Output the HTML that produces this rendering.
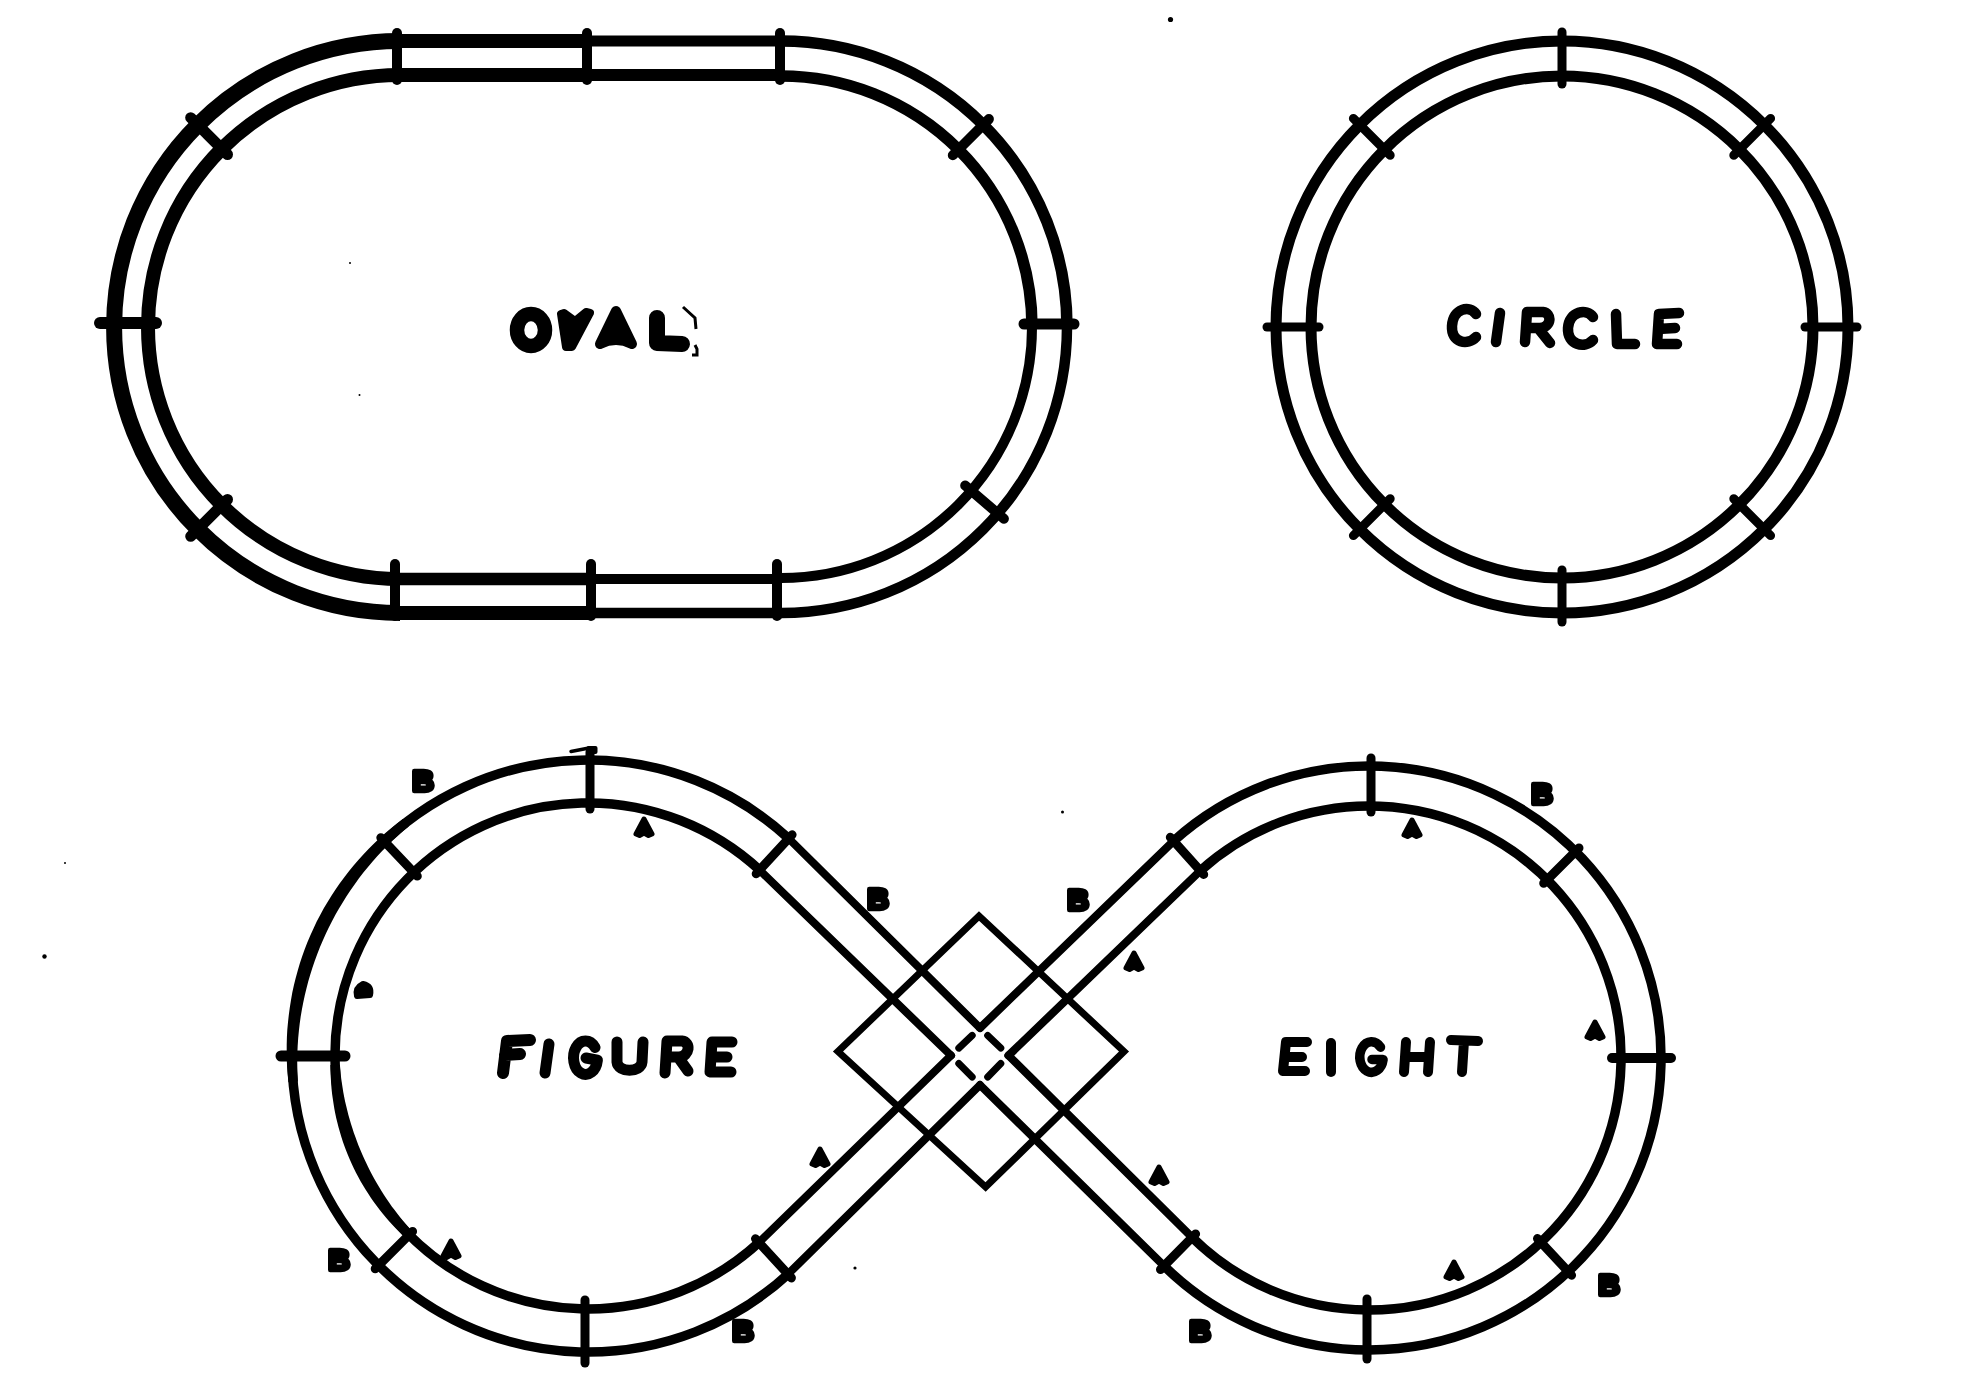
<!DOCTYPE html>
<html><head><meta charset="utf-8"><style>
html,body{margin:0;padding:0;background:#fff;}
svg{display:block;will-change:transform;}
.lbl{font-family:"Liberation Sans",sans-serif;font-weight:bold;font-size:30px;text-anchor:middle;fill:#000;stroke:#000;stroke-width:2.5px;stroke-linejoin:round;}
.lb{font-size:30px;stroke-width:4.5px;}
</style></head><body>
<svg width="1969" height="1386" viewBox="0 0 1969 1386">
<g stroke="#000" fill="none">
<path d="M400,41 A286,286 0 0 0 400,613" stroke-width="16" fill="none" />
<path d="M400,75 A252,252 0 0 0 400,579" stroke-width="14" fill="none" />
<path d="M399,41 L587,41" stroke-width="14" fill="none" />
<path d="M399,75 L587,75" stroke-width="14" fill="none" />
<path d="M586,41 L782,41" stroke-width="11" fill="none" />
<path d="M586,75 L782,75" stroke-width="12" fill="none" />
<path d="M399,613 L591,613" stroke-width="14" fill="none" />
<path d="M399,579 L591,579" stroke-width="12.5" fill="none" />
<path d="M590,613 L782,613" stroke-width="10.5" fill="none" />
<path d="M590,579 L782,579" stroke-width="10" fill="none" />
<path d="M781,41 A286,286 0 0 1 1067,327" stroke-width="11.5" fill="none" />
<path d="M781,76 A251,251 0 0 1 1032,327" stroke-width="11.5" fill="none" />
<path d="M1067,327 A286,286 0 0 1 781,613" stroke-width="10.5" fill="none" />
<path d="M1032,327 A251,251 0 0 1 781,578" stroke-width="10" fill="none" />
<line x1="397.0" y1="33.0" x2="397.0" y2="80.0" stroke-width="10" stroke-linecap="round"/>
<line x1="587.0" y1="33.0" x2="587.0" y2="80.0" stroke-width="10" stroke-linecap="round"/>
<line x1="780.0" y1="33.0" x2="780.0" y2="80.0" stroke-width="10" stroke-linecap="round"/>
<line x1="395.0" y1="564.0" x2="395.0" y2="616.0" stroke-width="10" stroke-linecap="round"/>
<line x1="591.0" y1="564.0" x2="591.0" y2="616.0" stroke-width="10" stroke-linecap="round"/>
<line x1="777.0" y1="564.0" x2="777.0" y2="616.0" stroke-width="10" stroke-linecap="round"/>
<line x1="100.0" y1="323.0" x2="156.0" y2="323.0" stroke-width="12" stroke-linecap="round"/>
<line x1="1024.0" y1="324.0" x2="1074.0" y2="324.0" stroke-width="11" stroke-linecap="round"/>
<line x1="227.5" y1="499.5" x2="190.7" y2="536.3" stroke-width="11" stroke-linecap="round"/>
<line x1="227.5" y1="154.5" x2="190.7" y2="117.7" stroke-width="11" stroke-linecap="round"/>
<line x1="952.8" y1="155.2" x2="988.9" y2="119.1" stroke-width="10" stroke-linecap="round"/>
<line x1="965.2" y1="485.5" x2="1003.9" y2="518.7" stroke-width="10" stroke-linecap="round"/>
<circle cx="1562" cy="327" r="286" stroke-width="11" fill="none"/>
<circle cx="1562" cy="327" r="251" stroke-width="11" fill="none"/>
<line x1="1805.0" y1="327.0" x2="1857.0" y2="327.0" stroke-width="9" stroke-linecap="round"/>
<line x1="1733.8" y1="498.8" x2="1770.6" y2="535.6" stroke-width="9" stroke-linecap="round"/>
<line x1="1562.0" y1="570.0" x2="1562.0" y2="622.0" stroke-width="9" stroke-linecap="round"/>
<line x1="1390.2" y1="498.8" x2="1353.4" y2="535.6" stroke-width="9" stroke-linecap="round"/>
<line x1="1319.0" y1="327.0" x2="1267.0" y2="327.0" stroke-width="9" stroke-linecap="round"/>
<line x1="1390.2" y1="155.2" x2="1353.4" y2="118.4" stroke-width="9" stroke-linecap="round"/>
<line x1="1562.0" y1="84.0" x2="1562.0" y2="32.0" stroke-width="9" stroke-linecap="round"/>
<line x1="1733.8" y1="155.2" x2="1770.6" y2="118.4" stroke-width="9" stroke-linecap="round"/>
<path d="M788.7,838.5 A296,296 0 1 0 788.0,1274.2" stroke-width="9.5" fill="none" />
<path d="M759.6,870.1 A253,253 0 1 0 758.9,1242.5" stroke-width="9.5" fill="none" />
<path d="M1173.6,841.0 A292,292 0 1 1 1164.0,1265.9" stroke-width="9.5" fill="none" />
<path d="M1200.4,870.7 A252,252 0 1 1 1192.1,1237.4" stroke-width="9.5" fill="none" />
<path d="M788.7,838.5 L980.0,1028.0" stroke-width="8" fill="none" stroke-linejoin="round" stroke-linecap="round"/>
<path d="M1008.5,1055.5 L1192.1,1237.4" stroke-width="8" fill="none" stroke-linejoin="round" stroke-linecap="round"/>
<path d="M759.6,870.1 L951.0,1055.5" stroke-width="8" fill="none" stroke-linejoin="round" stroke-linecap="round"/>
<path d="M980.0,1085.0 L1164.0,1265.9" stroke-width="8" fill="none" stroke-linejoin="round" stroke-linecap="round"/>
<path d="M758.9,1242.5 L951.0,1055.5" stroke-width="8" fill="none" stroke-linejoin="round" stroke-linecap="round"/>
<path d="M980.0,1028.0 L1173.6,841.0" stroke-width="8" fill="none" stroke-linejoin="round" stroke-linecap="round"/>
<path d="M788.0,1274.2 L980.0,1085.0" stroke-width="8" fill="none" stroke-linejoin="round" stroke-linecap="round"/>
<path d="M1008.5,1055.5 L1200.4,870.7" stroke-width="8" fill="none" stroke-linejoin="round" stroke-linecap="round"/>
<line x1="958.8" y1="1048.1" x2="972.2" y2="1035.4" stroke-width="7" stroke-linecap="round"/>
<line x1="987.7" y1="1035.4" x2="1000.8" y2="1048.1" stroke-width="7" stroke-linecap="round"/>
<line x1="958.8" y1="1063.5" x2="972.2" y2="1077.0" stroke-width="7" stroke-linecap="round"/>
<line x1="987.7" y1="1077.0" x2="1000.8" y2="1063.5" stroke-width="7" stroke-linecap="round"/>
<path d="M979,916 L1124,1051.5 L985.6,1187 L838,1051.5 Z" stroke-width="7" fill="none" stroke-linejoin="miter"/>
<line x1="590.0" y1="809.0" x2="590.0" y2="752.0" stroke-width="9" stroke-linecap="round"/>
<line x1="345.0" y1="1056.0" x2="281.0" y2="1056.0" stroke-width="11" stroke-linecap="round"/>
<line x1="585.0" y1="1300.0" x2="585.0" y2="1363.0" stroke-width="9" stroke-linecap="round"/>
<line x1="417.3" y1="876.1" x2="380.8" y2="837.7" stroke-width="9" stroke-linecap="round"/>
<line x1="412.6" y1="1231.4" x2="375.2" y2="1268.8" stroke-width="9" stroke-linecap="round"/>
<line x1="756.2" y1="873.7" x2="792.1" y2="834.8" stroke-width="9" stroke-linecap="round"/>
<line x1="755.5" y1="1238.8" x2="791.4" y2="1277.9" stroke-width="9" stroke-linecap="round"/>
<line x1="1371.0" y1="812.0" x2="1371.0" y2="758.0" stroke-width="9" stroke-linecap="round"/>
<line x1="1612.0" y1="1058.0" x2="1671.0" y2="1058.0" stroke-width="10" stroke-linecap="round"/>
<line x1="1367.0" y1="1299.0" x2="1367.0" y2="1359.0" stroke-width="9" stroke-linecap="round"/>
<line x1="1543.7" y1="883.3" x2="1579.0" y2="848.0" stroke-width="9" stroke-linecap="round"/>
<line x1="1537.5" y1="1238.6" x2="1571.6" y2="1275.2" stroke-width="9" stroke-linecap="round"/>
<line x1="1203.7" y1="874.4" x2="1170.3" y2="837.3" stroke-width="9" stroke-linecap="round"/>
<line x1="1195.6" y1="1233.9" x2="1160.5" y2="1269.5" stroke-width="9" stroke-linecap="round"/>
<path d="M571,751.5 L589,748" stroke-width="3.5" fill="none" stroke-linecap="round"/>
<rect x="586.5" y="746" width="11" height="8" rx="2" fill="#000" stroke="none"/>
<path d="M288.4,1082.2 L287.7,1074.8 L287.1,1067.3 L286.8,1059.8 L286.7,1052.3 L286.7,1044.8 L286.9,1037.3 L287.3,1029.8 L288.0,1022.3 L288.8,1014.9 L289.8,1007.4 L291.0,1000.0 L292.3,992.6 L293.9,985.3 L295.7,978.0 L297.7,970.7 L299.8,963.5 L302.2,956.3 L304.7,949.2 L307.4,942.2 L310.4,935.3 L313.5,928.4 L316.7,921.6 L320.2,914.9 L323.8,908.3 L327.6,901.9 L331.6,895.5 L335.7,889.2 L340.0,883.0 L344.5,876.9 L349.1,871.0 L353.8,865.2 L358.8,859.5 L363.8,854.0 L369.0,848.5 L374.3,843.3 L379.8,838.1 L385.4,833.1 L391.1,828.3 L396.9,823.6 L402.8,819.0 L408.7,826.5 L403.1,831.1 L397.7,835.9 L392.4,840.8 L387.2,845.9 L382.1,851.0 L377.2,856.3 L372.4,861.7 L367.8,867.2 L363.2,872.8 L358.8,878.6 L354.6,884.4 L350.5,890.3 L346.5,896.3 L342.7,902.4 L339.0,908.6 L335.4,914.8 L332.0,921.2 L328.8,927.6 L325.7,934.1 L322.7,940.7 L319.9,947.3 L317.3,954.0 L314.8,960.7 L312.5,967.5 L310.3,974.4 L308.3,981.3 L306.5,988.3 L304.8,995.3 L303.3,1002.3 L301.9,1009.4 L300.7,1016.5 L299.7,1023.7 L298.9,1030.8 L298.2,1038.0 L297.7,1045.2 L297.4,1052.4 L297.2,1059.7 L297.3,1066.9 L297.5,1074.2 L297.9,1081.4 Z" fill="#000" stroke="none"/>
<path d="M330.4,1065.0 L330.5,1069.8 L330.6,1074.7 L330.9,1079.5 L331.2,1084.4 L331.6,1089.2 L332.1,1094.0 L332.8,1098.8 L333.5,1103.6 L334.3,1108.4 L335.2,1113.2 L336.2,1118.0 L337.4,1122.7 L338.6,1127.4 L339.9,1132.1 L341.3,1136.8 L342.8,1141.4 L344.4,1146.0 L346.1,1150.6 L347.9,1155.1 L349.8,1159.6 L351.8,1164.0 L353.9,1168.4 L356.0,1172.8 L358.3,1177.1 L360.7,1181.4 L363.1,1185.6 L365.7,1189.7 L368.3,1193.8 L371.0,1197.9 L373.8,1201.9 L376.6,1205.8 L379.6,1209.7 L382.6,1213.5 L385.7,1217.2 L388.9,1220.9 L392.1,1224.5 L395.4,1228.0 L398.8,1231.5 L402.2,1234.9 L405.7,1238.3 L412.5,1231.5 L409.3,1228.1 L406.2,1224.6 L403.2,1221.1 L400.3,1217.5 L397.4,1213.8 L394.6,1210.1 L391.8,1206.4 L389.1,1202.6 L386.5,1198.8 L384.0,1194.9 L381.5,1191.0 L379.1,1187.1 L376.7,1183.1 L374.4,1179.0 L372.2,1175.0 L370.1,1170.9 L368.0,1166.8 L366.0,1162.6 L364.1,1158.4 L362.2,1154.2 L360.4,1149.9 L358.6,1145.7 L357.0,1141.4 L355.4,1137.0 L353.8,1132.7 L352.4,1128.3 L351.0,1123.9 L349.7,1119.4 L348.4,1115.0 L347.3,1110.5 L346.2,1106.0 L345.1,1101.4 L344.2,1096.9 L343.3,1092.3 L342.6,1087.8 L341.9,1083.2 L341.2,1078.6 L340.7,1073.9 L340.3,1069.3 L339.9,1064.7 Z" fill="#000" stroke="none"/>
<text x="423" y="791" class="lbl lb">B</text>
<path d="M644,819 L652,834 L648.5,835.5 L644,833 L639.5,835.5 L636,834 Z" stroke-width="5" fill="#000" stroke-linejoin="round"/>
<path d="M363,984 Q372,986 370,995 L357,996 Q355,988 363,984 Z" stroke-width="6" fill="#000" stroke-linejoin="round"/>
<text x="339" y="1270" class="lbl lb">B</text>
<path d="M451,1241 L459,1256 L455.5,1257.5 L451,1255 L446.5,1257.5 L443,1256 Z" stroke-width="5" fill="#000" stroke-linejoin="round"/>
<path d="M820,1149 L828,1164 L824.5,1165.5 L820,1163 L815.5,1165.5 L812,1164 Z" stroke-width="5" fill="#000" stroke-linejoin="round"/>
<text x="743" y="1341" class="lbl lb">B</text>
<text x="878" y="909" class="lbl lb">B</text>
<text x="1078" y="910" class="lbl lb">B</text>
<path d="M1134,953 L1142,968 L1138.5,969.5 L1134,967 L1129.5,969.5 L1126,968 Z" stroke-width="5" fill="#000" stroke-linejoin="round"/>
<path d="M1159,1167 L1167,1182 L1163.5,1183.5 L1159,1181 L1154.5,1183.5 L1151,1182 Z" stroke-width="5" fill="#000" stroke-linejoin="round"/>
<text x="1542" y="804" class="lbl lb">B</text>
<path d="M1412,820 L1420,835 L1416.5,836.5 L1412,834 L1407.5,836.5 L1404,835 Z" stroke-width="5" fill="#000" stroke-linejoin="round"/>
<path d="M1595,1022 L1603,1037 L1599.5,1038.5 L1595,1036 L1590.5,1038.5 L1587,1037 Z" stroke-width="5" fill="#000" stroke-linejoin="round"/>
<text x="1200" y="1341" class="lbl lb">B</text>
<path d="M1454,1262 L1462,1277 L1458.5,1278.5 L1454,1276 L1449.5,1278.5 L1446,1277 Z" stroke-width="5" fill="#000" stroke-linejoin="round"/>
<text x="1609" y="1295" class="lbl lb">B</text>
<ellipse cx="531" cy="330" rx="14" ry="16" stroke-width="14.5" fill="none"/>
<path d="M561,314 L564,313 L575,321 L586,312 L590,313 L572,347 L566,347 Z" stroke-width="8" fill="#000" stroke-linejoin="round"/>
<path d="M616,311 L600,344 Q616,336 632,344 Z" stroke-width="10" fill="#000" stroke-linejoin="round"/>
<path d="M657,318 L657,343 L682,344" stroke-width="16" fill="none" stroke-linecap="round" stroke-linejoin="round"/>
<path d="M683,307 L695,318 L696,329 M695,345 L697,349 L697,355 L692,355" stroke-width="3" fill="none" />
<path d="M1476,314 C1470,305 1453,308 1452,326 C1451,343 1468,346 1476,337" stroke-width="10.5" fill="none" stroke-linecap="round" stroke-linejoin="round"/>
<path d="M1500,313 L1496,342" stroke-width="10.5" fill="none" stroke-linecap="round" stroke-linejoin="round"/>
<path d="M1525,342 L1527,312 L1543,312 C1552,313 1552,327 1540,328 L1530,328 M1538,328 L1550,343" stroke-width="10.5" fill="none" stroke-linecap="round" stroke-linejoin="round"/>
<path d="M1593,317 C1587,308 1569,311 1568,328 C1567,345 1585,349 1593,340" stroke-width="10.5" fill="none" stroke-linecap="round" stroke-linejoin="round"/>
<path d="M1616,314 L1617,344 L1635,344" stroke-width="10.5" fill="none" stroke-linecap="round" stroke-linejoin="round"/>
<path d="M1679,313 L1659,314 L1657,344 L1677,344 M1658,329 L1675,328" stroke-width="10.5" fill="none" stroke-linecap="round" stroke-linejoin="round"/>
<path d="M503,1073 L507,1041 L530,1040 M505,1055 L520,1054" stroke-width="12" fill="none" stroke-linecap="round" stroke-linejoin="round"/>
<path d="M549,1044 L545,1073" stroke-width="11" fill="none" stroke-linecap="round" stroke-linejoin="round"/>
<path d="M595.0,1047.4 A12,16.75 0 1 0 597.4,1060.1 L586,1058" stroke-width="11" fill="none" stroke-linecap="round" stroke-linejoin="round"/>
<path d="M617,1042 L617,1062 C618,1073 641,1073 642,1062 L643,1042" stroke-width="11" fill="none" stroke-linecap="round" stroke-linejoin="round"/>
<path d="M665,1073 L667,1041 L682,1041 C691,1042 690,1056 679,1057 L671,1057 M678,1057 L688,1071" stroke-width="11" fill="none" stroke-linecap="round" stroke-linejoin="round"/>
<path d="M732,1042 L712,1042 L710,1072 L731,1072 M711,1057 L727,1057" stroke-width="11" fill="none" stroke-linecap="round" stroke-linejoin="round"/>
<path d="M1307,1042 L1286,1042 L1283,1071 L1305,1071 M1285,1057 L1302,1057" stroke-width="10" fill="none" stroke-linecap="round" stroke-linejoin="round"/>
<path d="M1331,1043 L1331,1072" stroke-width="10" fill="none" stroke-linecap="round" stroke-linejoin="round"/>
<path d="M1380.5,1047.2 A11.75,15.25 0 1 0 1383.1,1059.6 L1372,1059.5" stroke-width="9.5" fill="none" stroke-linecap="round" stroke-linejoin="round"/>
<path d="M1406,1042 L1404,1072 M1430,1042 L1428,1072 M1405,1057 L1429,1057" stroke-width="10" fill="none" stroke-linecap="round" stroke-linejoin="round"/>
<path d="M1451,1040 L1478,1041 M1464,1041 L1462,1072" stroke-width="10" fill="none" stroke-linecap="round" stroke-linejoin="round"/>
<circle cx="1170.5" cy="19.5" r="2.6" fill="#000" stroke="none"/>
<circle cx="44.5" cy="956.5" r="2.2" fill="#000" stroke="none"/>
<circle cx="65" cy="863" r="1" fill="#000" stroke="none"/>
<circle cx="1062.5" cy="812" r="1.5" fill="#000" stroke="none"/>
<circle cx="855" cy="1268" r="1.6" fill="#000" stroke="none"/>
<circle cx="350" cy="263" r="1" fill="#000" stroke="none"/>
<circle cx="359.5" cy="395" r="1" fill="#000" stroke="none"/>
</g></svg></body></html>
